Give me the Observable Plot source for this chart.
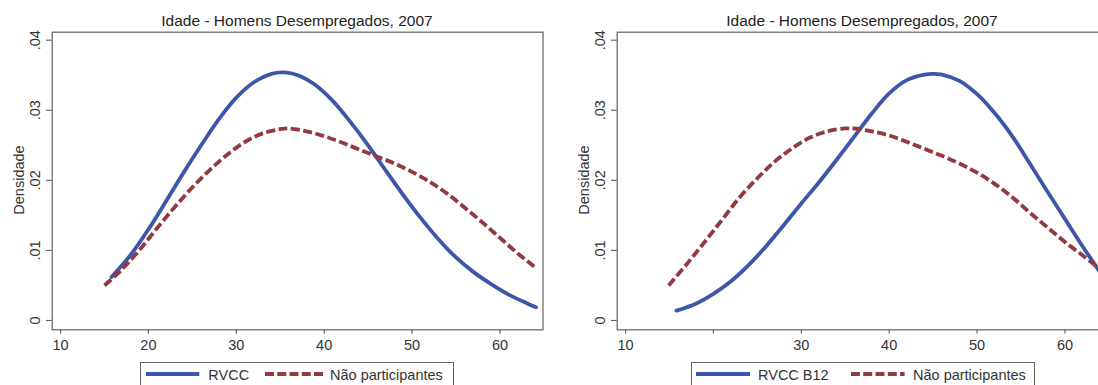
<!DOCTYPE html>
<html>
<head>
<meta charset="utf-8">
<script src="https://cdn.jsdelivr.net/npm/d3@7"></script>
<script src="https://cdn.jsdelivr.net/npm/@observablehq/plot@0.6"></script>
<style>
  html, body { margin: 0; padding: 0; background: #fff; overflow: hidden; }
  body { width: 1098px; height: 385px; position: relative; font-family: "Liberation Sans", Arial, Helvetica, sans-serif; color: #333; }
  .panel { position: absolute; top: 0; width: 565px; height: 385px; }
  .panel svg { max-width: none !important; overflow: visible; display: block; }
  .title { position: absolute; top: 12.9px; font-size: 15.5px; line-height: 1; color: #222; white-space: nowrap; transform: translateX(-50%); }
  .ylab { position: absolute; font-size: 14.5px; line-height: 1; color: #333; white-space: nowrap; transform: translate(-50%, -50%) rotate(-90deg); }
  .legend { position: absolute; top: 361.7px; height: 40px; border: 1px solid #666; box-sizing: border-box; background: #fff; }
  .ltext { position: absolute; top: 367.7px; font-size: 14.5px; line-height: 1; color: #333; white-space: nowrap; }
  .lsw { position: absolute; top: 372.3px; height: 4px; overflow: visible; }
</style>
</head>
<body>
<div id="left" class="panel" style="left:0px"></div>
<div id="right" class="panel" style="left:565px"></div>

<script>
// ---- Data ----
const panelTitle = "Idade - Homens Desempregados, 2007";
const yLabel = "Densidade";
const xTicks = [10, 20, 30, 40, 50, 60];
const yTicks = [0, 0.01, 0.02, 0.03, 0.04];

// Left panel: RVCC
const leftRvccAge  = [15.8, 18, 20, 22, 24, 26, 28, 30, 32, 34, 35.5, 37, 39, 41, 43, 45, 47, 49, 51, 53, 55, 57, 59, 61, 63, 64.1];
const leftRvccDens = [0.0062, 0.0094, 0.0130, 0.0170, 0.0211, 0.0250, 0.0287, 0.0318, 0.0340, 0.0352, 0.0354, 0.0350, 0.0336, 0.0313, 0.0283, 0.0250, 0.0214, 0.0179, 0.0146, 0.0116, 0.0090, 0.0069, 0.0052, 0.0037, 0.0025, 0.0019];
// Left panel: Não participantes
const leftNpAge  = [15, 17, 19, 21, 23, 25, 27, 29, 31, 33, 35, 36, 38, 40, 42, 44, 46, 48, 50, 52, 54, 56, 58, 60, 62, 63.9];
const leftNpDens = [0.0050, 0.0073, 0.0101, 0.0132, 0.0162, 0.0190, 0.0215, 0.0237, 0.0255, 0.0267, 0.0273, 0.0274, 0.0270, 0.0263, 0.0254, 0.0244, 0.0234, 0.0224, 0.0212, 0.0198, 0.0181, 0.0161, 0.0140, 0.0118, 0.0096, 0.0077];

// Right panel: RVCC B12
const rightRvccAge  = [15.8, 18, 20, 22, 24, 26, 28, 30, 32, 34, 36, 38, 40, 42, 44, 45, 46, 48, 50, 52, 54, 56, 58, 60, 62, 64.1];
const rightRvccDens = [0.0014, 0.0024, 0.0038, 0.0056, 0.0079, 0.0106, 0.0136, 0.0167, 0.0197, 0.0229, 0.0262, 0.0295, 0.0324, 0.0343, 0.0351, 0.0352, 0.0351, 0.0342, 0.0323, 0.0296, 0.0263, 0.0224, 0.0184, 0.0145, 0.0106, 0.0067];
// Right panel: Não participantes
const rightNpAge  = [14.9, 17, 19, 21, 23, 25, 27, 29, 31, 33, 35, 36, 38, 40, 42, 44, 46, 48, 50, 52, 54, 56, 58, 60, 62, 64.1];
const rightNpDens = [0.0050, 0.0081, 0.0112, 0.0144, 0.0176, 0.0203, 0.0227, 0.0246, 0.0261, 0.0270, 0.0274, 0.0274, 0.0270, 0.0264, 0.0255, 0.0245, 0.0235, 0.0224, 0.0211, 0.0195, 0.0176, 0.0154, 0.0133, 0.0112, 0.0093, 0.0072];

const seriesNames = { left: ["RVCC", "Não participantes"], right: ["RVCC B12", "Não participantes"] };

// ---- Styles ----
const BLUE = "#3c56a8";
const RED = "#913a3f";
const AXIS = "#5f5f5f";
const FONT = '"Liberation Sans", Arial, Helvetica, sans-serif';

function rows(ages, dens) { return ages.map((a, i) => ({ age: a, dens: dens[i] })); }

const yFmt = d => d === 0 ? "0" : d.toFixed(2).replace(/^0/, "");

function panel(blueRows, redRows, xFmt) {
  return Plot.plot({
    width: 565,
    height: 385,
    marginLeft: 51.7,
    marginRight: 22.5,
    marginTop: 31.7,
    marginBottom: 55.7,
    style: { background: "transparent", maxWidth: "none", overflow: "visible", fontFamily: FONT, fontSize: "14.5px", color: "#333" },
    x: { domain: [9.05, 64.9], label: null },
    y: { domain: [-0.00133, 0.04114], label: null },
    marks: [
      Plot.axisX(xTicks, { label: null, tickSize: 4.5, tickPadding: 5.2, tickFormat: xFmt, stroke: AXIS, fill: "#333", fontSize: 14.5, strokeWidth: 1.1 }),
      Plot.axisY(yTicks, { label: null, tickSize: 5.7, tickPadding: 6.3, tickRotate: -90, textAnchor: "middle", lineAnchor: "bottom", tickFormat: yFmt, stroke: AXIS, fill: "#333", fontSize: 14.5, strokeWidth: 1.1 }),
      Plot.line(blueRows, { x: "age", y: "dens", stroke: BLUE, strokeWidth: 3.8, curve: "catmull-rom", strokeLinecap: "round" }),
      Plot.line(redRows, { x: "age", y: "dens", stroke: RED, strokeWidth: 3.8, curve: "catmull-rom", strokeDasharray: "9,3.5", strokeLinecap: "butt" }),
      Plot.frame({ stroke: AXIS, strokeWidth: 1.2 })
    ]
  });
}

document.getElementById("left").append(
  panel(rows(leftRvccAge, leftRvccDens), rows(leftNpAge, leftNpDens), d => String(d))
);
document.getElementById("right").append(
  panel(rows(rightRvccAge, rightRvccDens), rows(rightNpAge, rightNpDens), d => d === 20 ? "" : String(d))
);

// ---- Titles, y labels, legends (HTML around the SVGs) ----
function addEl(cls, text, styles) {
  const el = document.createElement("div");
  el.className = cls;
  if (text != null) el.textContent = text;
  Object.assign(el.style, styles);
  document.body.append(el);
  return el;
}
function swatch(left, width, color, dashed) {
  const ns = "http://www.w3.org/2000/svg";
  const svg = document.createElementNS(ns, "svg");
  svg.setAttribute("class", "lsw");
  svg.setAttribute("width", width);
  svg.setAttribute("height", 4);
  svg.style.left = left + "px";
  const line = document.createElementNS(ns, "line");
  line.setAttribute("x1", 0); line.setAttribute("x2", width);
  line.setAttribute("y1", 2); line.setAttribute("y2", 2);
  line.setAttribute("stroke", color);
  line.setAttribute("stroke-width", 3.8);
  if (dashed) line.setAttribute("stroke-dasharray", "9,3.25");
  svg.append(line);
  document.body.append(svg);
}

const offsets = { left: 0, right: 565 };
for (const side of ["left", "right"]) {
  const o = offsets[side];
  addEl("title", panelTitle, { left: (297 + o) + "px" });
  addEl("ylab", yLabel, { left: (19 + o) + "px", top: "180px" });
}
// Left legend
addEl("legend", null, { left: "140px", width: "314px" });
swatch(146, 53.3, BLUE, false);
addEl("ltext", seriesNames.left[0], { left: "208.3px" });
swatch(265, 58.3, RED, true);
addEl("ltext", seriesNames.left[1], { left: "330px" });
// Right legend
addEl("legend", null, { left: "690.8px", width: "344.2px" });
swatch(696, 54, BLUE, false);
addEl("ltext", seriesNames.right[0], { left: "758px" });
swatch(850.8, 53.6, RED, true);
addEl("ltext", seriesNames.right[1], { left: "913px" });
</script>
</body>
</html>
